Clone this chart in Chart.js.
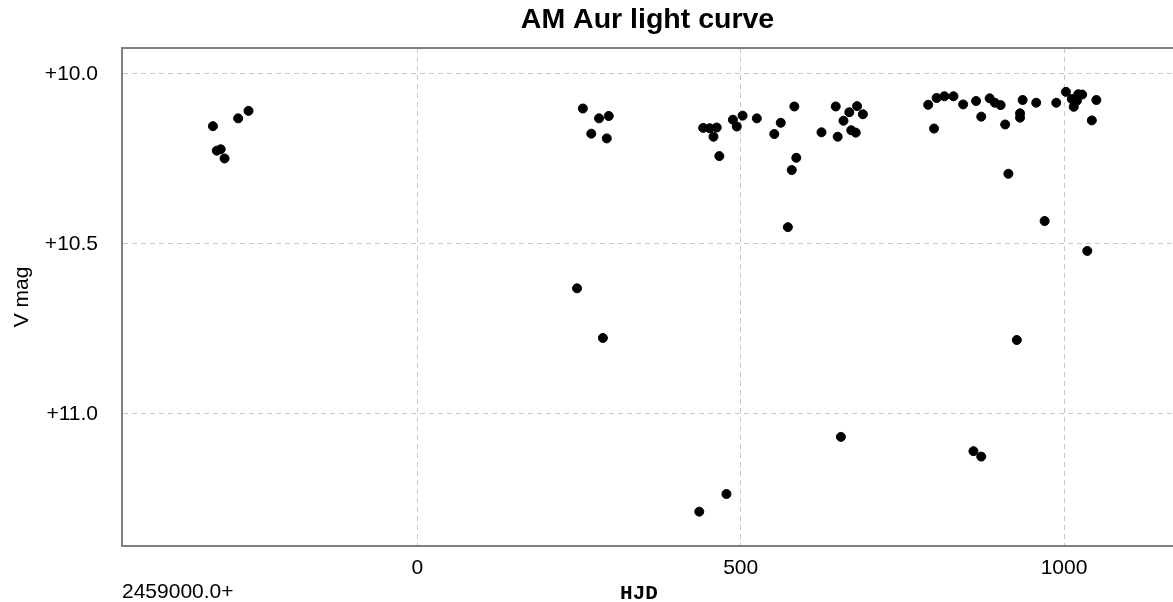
<!DOCTYPE html>
<html>
<head>
<meta charset="utf-8">
<script src="https://cdn.jsdelivr.net/npm/chart.js@4"></script>
<style>
  html, body { margin: 0; padding: 0; background: #fff; }
  .wrap { width: 1173px; height: 602px; position: relative; }
</style>
</head>
<body>
<div class="wrap"><canvas id="lc"></canvas></div>
<script>
// observations: HJD - 2459000 and V magnitude
const hjd = [
  -316, -310, -304, -298, -277, -261,
  256, 281, 296, 269, 293, 247, 287,
  442, 452, 458, 463, 467, 488, 494, 503, 525, 552, 562, 583, 586, 579, 573,
  625, 647, 650, 659, 668, 680, 689, 671, 678, 655, 436, 478,
  790, 803, 799, 815, 829, 844, 864, 872, 885, 893, 902, 909, 914, 932, 932,
  936, 957, 970, 988, 1003, 1012, 1015, 1020, 1022, 1028, 1043, 1050, 1036,
  860, 872, 927
];
const vmag = [
  10.154, 10.226, 10.222, 10.249, 10.131, 10.109,
  10.102, 10.131, 10.124, 10.176, 10.190, 10.631, 10.777,
  10.159, 10.160, 10.185, 10.158, 10.242, 10.135, 10.155, 10.123, 10.131, 10.177, 10.144, 10.096, 10.247, 10.283, 10.451,
  10.172, 10.096, 10.185, 10.138, 10.113, 10.095, 10.119, 10.166, 10.173, 11.068, 11.288, 11.236,
  10.091, 10.071, 10.161, 10.066, 10.066, 10.090, 10.080, 10.126, 10.072, 10.085, 10.092, 10.149, 10.294, 10.116, 10.129,
  10.077, 10.085, 10.433, 10.085, 10.053, 10.074, 10.097, 10.079, 10.060, 10.061, 10.137, 10.077, 10.521,
  11.110, 11.126, 10.783
];
const xTicks = [0, 500, 1000];
const yTicks = [10.0, 10.5, 11.0];

const frameColor = '#808080';
const gridColor = '#c8c8c8';

Chart.defaults.font.family = "'Liberation Sans', Arial, sans-serif";
Chart.defaults.color = '#000';

// top frame line plus the JD offset and HJD captions under the axis
const framePlugin = {
  id: 'frame',
  afterDraw(chart) {
    const {ctx, chartArea} = chart;
    ctx.save();
    ctx.strokeStyle = frameColor;
    ctx.lineWidth = 2;
    ctx.beginPath();
    ctx.moveTo(chartArea.left - 1, chartArea.top);
    ctx.lineTo(chartArea.right, chartArea.top);
    ctx.stroke();

    ctx.fillStyle = '#000';
    ctx.textBaseline = 'middle';
    ctx.textAlign = 'left';
    ctx.font = "21px 'Liberation Sans', Arial, sans-serif";
    ctx.fillText('2459000.0+', chartArea.left, 592);
    ctx.textAlign = 'center';
    ctx.font = "bold 21px 'Liberation Mono', 'Courier New', monospace";
    ctx.fillText('HJD', 639, 594);
    ctx.restore();
  }
};

new Chart(document.getElementById('lc'), {
  type: 'scatter',
  data: {
    datasets: [{
      label: 'V',
      data: hjd.map((x, i) => ({x: x, y: vmag[i]})),
      backgroundColor: '#000',
      borderColor: '#000',
      borderWidth: 1,
      pointRadius: 4.5
    }]
  },
  options: {
    responsive: true,
    maintainAspectRatio: false,
    animation: false,
    layout: { padding: 0, autoPadding: false },
    scales: {
      x: {
        type: 'linear',
        min: -456.6,
        max: 1168.5,
        afterBuildTicks: (scale) => { scale.ticks = xTicks.map(v => ({value: v})); },
        afterFit: (scale) => { scale.height = 56; },
        border: { display: true, color: frameColor, width: 2, dash: [5, 4] },
        grid: { color: gridColor, lineWidth: 1, drawTicks: false },
        ticks: {
          padding: 10,
          font: { size: 21 },
          maxRotation: 0,
          callback: (v) => String(v)
        }
      },
      y: {
        type: 'linear',
        reverse: true,
        min: 9.924,
        max: 11.389,
        afterBuildTicks: (scale) => { scale.ticks = yTicks.map(v => ({value: v})); },
        afterFit: (scale) => { scale.width = 122; },
        border: { display: true, color: frameColor, width: 2, dash: [5, 4] },
        grid: { color: gridColor, lineWidth: 1, drawTicks: false },
        ticks: {
          padding: 24,
          font: { size: 21 },
          callback: (v) => '+' + Number(v).toFixed(1)
        },
        title: {
          display: true,
          text: 'V mag',
          font: { size: 21 },
          padding: { top: 10, bottom: 0 }
        }
      }
    },
    plugins: {
      legend: { display: false },
      tooltip: { enabled: false },
      title: {
        display: true,
        text: 'AM Aur light curve',
        fullSize: false,
        color: '#000',
        font: { size: 28.5, weight: 'bold' },
        padding: { top: 3, bottom: 10.8 }
      }
    }
  },
  plugins: [framePlugin]
});
</script>
</body>
</html>
